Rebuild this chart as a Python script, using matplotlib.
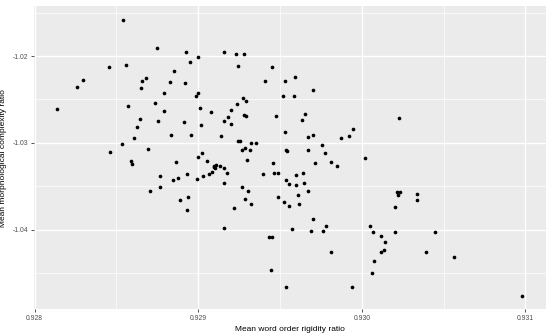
import matplotlib
matplotlib.use('Agg')
import matplotlib.pyplot as plt
import numpy as np

# values
rigidity = [
    0.928538, 0.928746, 0.928925, 0.928951, 0.928996, 0.928457, 0.928559, 0.928849,
    0.928293, 0.928259, 0.928657, 0.928681, 0.928652, 0.928825, 0.928921, 0.928791,
    0.928138, 0.928571, 0.928736, 0.928791, 0.928642, 0.928756, 0.928915, 0.928624,
    0.928831, 0.928954, 0.928608, 0.928535, 0.928691, 0.928459, 0.928587, 0.928596,
    0.928864, 0.928764, 0.928931, 0.928844, 0.928874, 0.928703, 0.928768, 0.928935,
    0.928891, 0.928929, 0.928996, 0.929020, 0.928992, 0.929053, 0.929026, 0.929063,
    0.929087, 0.929099, 0.929108, 0.929096, 0.929104, 0.929134, 0.929160, 0.929177,
    0.929157, 0.929270, 0.929315, 0.929297, 0.929270, 0.929307, 0.929287, 0.929325,
    0.929218, 0.929160, 0.929396, 0.929455, 0.929462, 0.929488, 0.929538, 0.929540,
    0.929538, 0.929553, 0.929486, 0.929523, 0.929553, 0.929596, 0.929598, 0.929642,
    0.929648, 0.929673, 0.929608, 0.929618, 0.929673, 0.929713, 0.929777, 0.929813,
    0.929849, 0.929703, 0.929573, 0.929691, 0.929764, 0.929435, 0.929451, 0.929443,
    0.929535, 0.929782, 0.929813, 0.929942, 0.930017, 0.930218, 0.930233, 0.930224,
    0.930335, 0.930335, 0.930205, 0.930051, 0.930067, 0.930118, 0.930142, 0.930138,
    0.930118, 0.930077, 0.930063, 0.930203, 0.930447, 0.930390, 0.930561, 0.930982,
    0.930227, 0.929945, 0.929923, 0.929872, 0.929758, 0.929160, 0.929230, 0.929282,
    0.929246, 0.929449, 0.929410, 0.929532, 0.929590, 0.929703, 0.928996, 0.928985,
    0.929518, 0.929585, 0.929274, 0.929293, 0.929236, 0.929012, 0.929075, 0.929203,
    0.929282, 0.929293, 0.929179, 0.929157, 0.929203, 0.929018, 0.929476, 0.929651,
    0.929632, 0.929140, 0.929532, 0.929673, 0.929703, 0.929240, 0.929254, 0.929325,
    0.929354, 0.929288,
]
complexity = [
    -1.015818, -1.019044, -1.019505, -1.020657, -1.020161, -1.021313, -1.021083, -1.021728,
    -1.022765, -1.023537, -1.022880, -1.022581, -1.023733, -1.022961, -1.023157, -1.024228,
    -1.026106, -1.025806, -1.025461, -1.026302, -1.027224, -1.027454, -1.027650, -1.028180,
    -1.029067, -1.029067, -1.029447, -1.030138, -1.030714, -1.031025, -1.032028, -1.032488,
    -1.032177, -1.033756, -1.033560, -1.034286, -1.034021, -1.035518, -1.035092, -1.036175,
    -1.036555, -1.037742, -1.031601, -1.031175, -1.034136, -1.032097, -1.033825, -1.033560,
    -1.033364, -1.032638, -1.032558, -1.032834, -1.032869, -1.032673, -1.032869, -1.033445,
    -1.034597, -1.030795, -1.030829, -1.031947, -1.035023, -1.035553, -1.036475, -1.037051,
    -1.037512, -1.039781, -1.033560, -1.032327, -1.033445, -1.033525, -1.030829, -1.030968,
    -1.034217, -1.034747, -1.036290, -1.036751, -1.037212, -1.033641, -1.034862, -1.033445,
    -1.034631, -1.035518, -1.036014, -1.037016, -1.030853, -1.032373, -1.031221, -1.032212,
    -1.032604, -1.038779, -1.039862, -1.040092, -1.040092, -1.040783, -1.040783, -1.044585,
    -1.046544, -1.039585, -1.042581, -1.046613, -1.031717, -1.035714, -1.035668, -1.035945,
    -1.035899, -1.036555, -1.037396, -1.039585, -1.040207, -1.040737, -1.041429, -1.042281,
    -1.042581, -1.043548, -1.045000, -1.040276, -1.040276, -1.042512, -1.043157, -1.047581,
    -1.027143, -1.028410, -1.029263, -1.029493, -1.030253, -1.019505, -1.019735, -1.019735,
    -1.021152, -1.021267, -1.022846, -1.022846, -1.022465, -1.023917, -1.024228, -1.024574,
    -1.024574, -1.024574, -1.024885, -1.025230, -1.025530, -1.025956, -1.026452, -1.026267,
    -1.026797, -1.026959, -1.027028, -1.027454, -1.027834, -1.027915, -1.026912, -1.026647,
    -1.027419, -1.029263, -1.028756, -1.029378, -1.029147, -1.029758, -1.029839, -1.030069,
    -1.030023, -1.030565,
]

x_ticks = [0.928, 0.929, 0.930, 0.931]
x_tick_labels = ["0.928", "0.929", "0.930", "0.931"]
y_ticks = [-1.04, -1.03, -1.02]
y_tick_labels = ["-1.04", "-1.03", "-1.02"]

plt.rcParams['font.family'] = ['Liberation Sans', 'DejaVu Sans']

fig = plt.figure(figsize=(5.5, 3.34), dpi=100)
ax = fig.add_axes([34 / 550, 1 - 309.3 / 334, 511.7 / 550, 303.3 / 334])

# ggplot-style 5% expansion
x = np.array(rigidity)
y = np.array(complexity)
xpad = (x.max() - x.min()) * 0.05
ypad = (y.max() - y.min()) * 0.05
ax.set_xlim(x.min() - xpad, x.max() + xpad)
ax.set_ylim(y.min() - ypad, y.max() + ypad)

ax.set_facecolor('#EBEBEB')
for s in ax.spines.values():
    s.set_visible(False)

ax.set_xticks(x_ticks)
ax.set_xticklabels(x_tick_labels)
ax.set_yticks(y_ticks)
ax.set_yticklabels(y_tick_labels)
ax.set_xticks([0.9285, 0.9295, 0.9305], minor=True)
ax.set_yticks([-1.045, -1.035, -1.025, -1.015], minor=True)

ax.grid(True, which='major', color='white', linewidth=1.0)
ax.grid(True, which='minor', color='white', linewidth=0.5)
ax.set_axisbelow(True)

ax.tick_params(which='major', length=2.5, width=0.6, color='#333333',
               labelsize=4.9, labelcolor='#4D4D4D', pad=1.5)
ax.tick_params(which='minor', length=0)

ax.scatter(x, y, s=7, color='black', linewidths=0, zorder=3)

ax.set_xlabel("Mean word order rigidity ratio", fontsize=6, labelpad=3)
ax.set_ylabel("Mean morphological complexity ratio", fontsize=6, labelpad=4)

fig.savefig("out.png", dpi=100)
plt.close(fig)
